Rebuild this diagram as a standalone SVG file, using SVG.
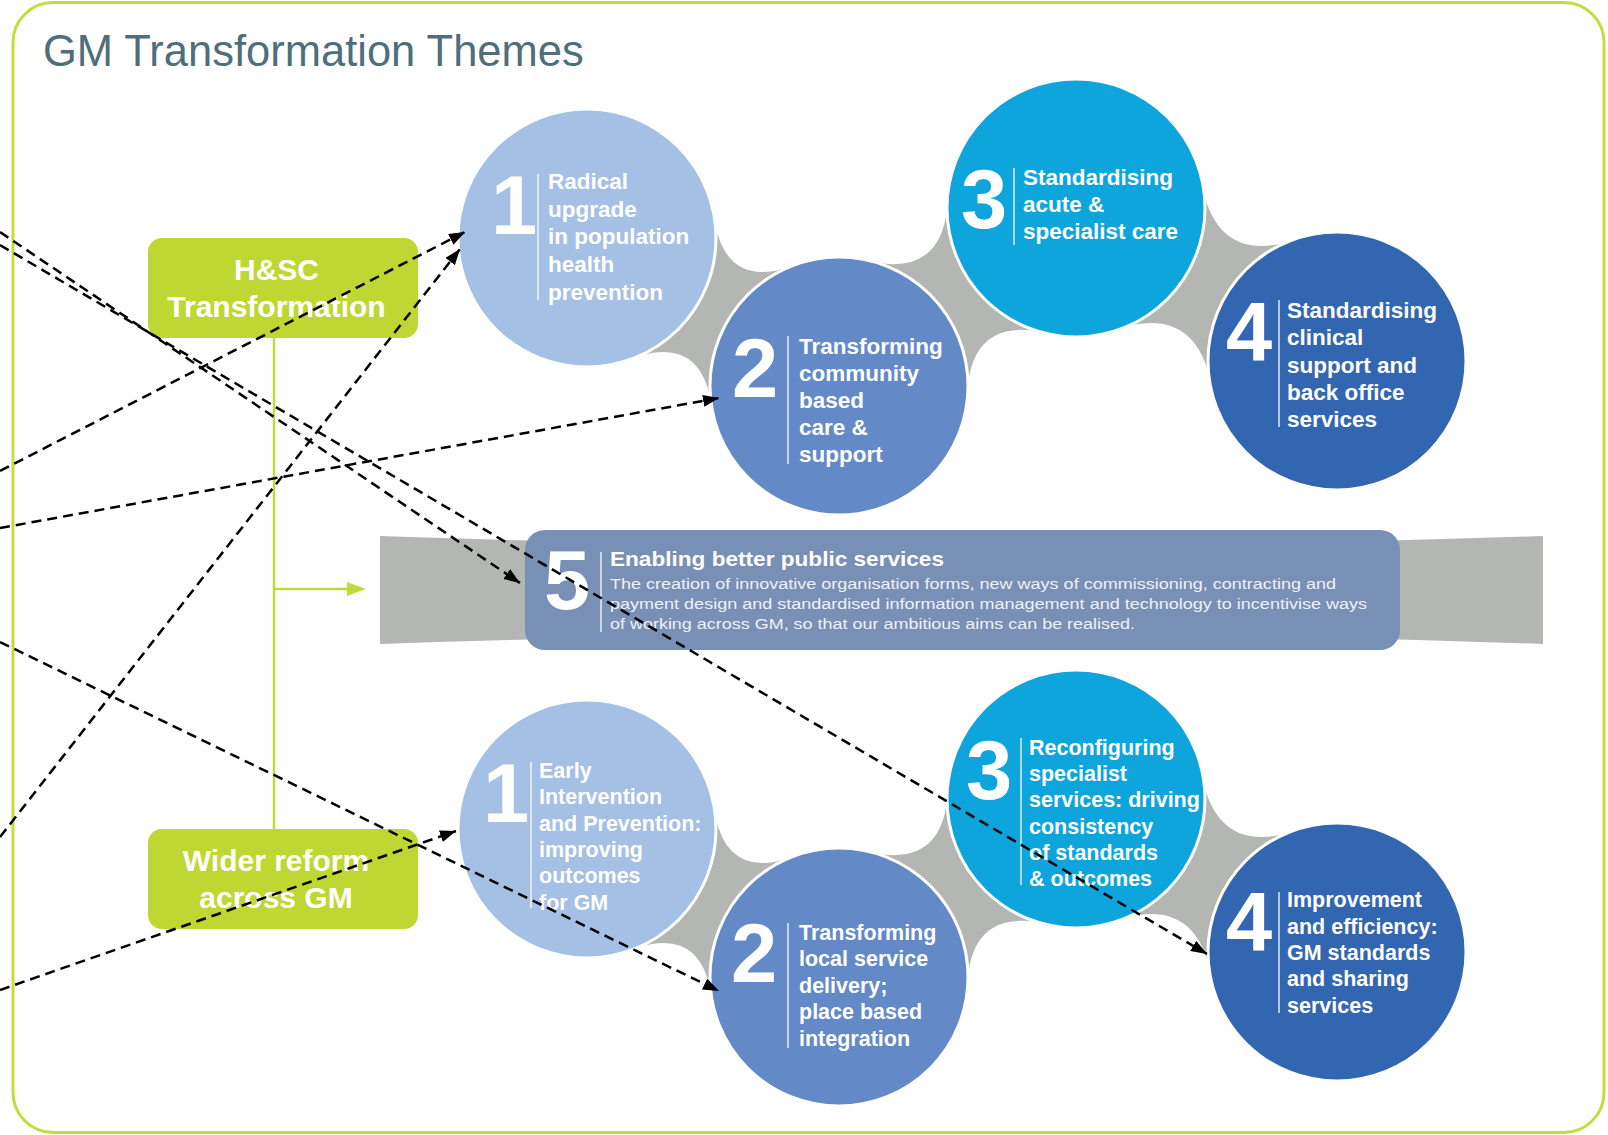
<svg xmlns="http://www.w3.org/2000/svg" width="1608" height="1135" viewBox="0 0 1608 1135">
<defs>
<style>
text{font-family:"Liberation Sans",Arial,Helvetica,sans-serif}
.title{font-size:43.5px;fill:#4f6e7c}
.num{font-weight:bold;font-size:83px;fill:#fff;text-anchor:middle}
.lbl{font-weight:bold;font-size:22.5px;fill:#fff}
.lbl2{font-weight:bold;font-size:21.5px;fill:#fff}
.sep{stroke:#fff;stroke-width:1.5;opacity:0.85}
.band{fill:#b4b6b4}
.c1{fill:#a5c0e5;stroke:#fff;stroke-width:3}
.c2{fill:#6389c7;stroke:#fff;stroke-width:3}
.c3{fill:#0ea5dc;stroke:#fff;stroke-width:3}
.c4{fill:#3366b0;stroke:#fff;stroke-width:3}
.green{fill:#bfd732}
.gtxt{font-weight:bold;font-size:30px;fill:#fff;text-anchor:middle}
.head5{font-weight:bold;font-size:21px;fill:#fff}
.body5{font-size:15.5px;fill:#eef2f8}
.gline{stroke:#c2d93c;stroke-width:2.5;fill:none}
.dash{fill:none;stroke:#000;stroke-width:2.5;stroke-dasharray:10 6;marker-end:url(#ah)}
</style>
<marker id="ah" markerUnits="userSpaceOnUse" markerWidth="18" markerHeight="14" refX="16" refY="6" orient="auto">
<path d="M0,0 L16,6 L0,12 z" fill="#000"/>
</marker>
</defs>
<rect x="0" y="0" width="1608" height="1135" fill="#fff"/>
<rect x="13" y="2.5" width="1591" height="1130" rx="40" fill="#fff" stroke="#c5dc3c" stroke-width="3"/>
<text class="title" x="43" y="66">GM Transformation Themes</text>

<g id="bands">
<path class="band" d="M380,536 Q961,556 1543,536 L1543,644 Q961,624 380,644 Z"/>
<g id="bands-top">
<path class="band" d="M715.4,225.5 Q728.2,286.1 787.4,267.7 L710.6,398.5 Q697.8,337.9 638.6,356.3 Z"/>
<path class="band" d="M877,262.7 Q939.5,273 947,210.1 L1038,331.3 Q975.5,321 968,383.9 Z"/>
<path class="band" d="M1204.4,195.4 Q1221.7,258.6 1285.2,242.8 L1208.6,373.6 Q1191.3,310.4 1127.8,326.2 Z"/>
</g>
<g id="bands-bottom" transform="translate(0,591)">
<path class="band" d="M715.4,225.5 Q728.2,286.1 787.4,267.7 L710.6,398.5 Q697.8,337.9 638.6,356.3 Z"/>
<path class="band" d="M877,262.7 Q939.5,273 947,210.1 L1038,331.3 Q975.5,321 968,383.9 Z"/>
<path class="band" d="M1204.4,195.4 Q1221.7,258.6 1285.2,242.8 L1208.6,373.6 Q1191.3,310.4 1127.8,326.2 Z"/>
</g>
</g>

<g id="top-1">
<circle class="c1" cx="587" cy="238" r="129"/>
<text class="num" x="514" y="234">1</text>
<line class="sep" x1="538" y1="174" x2="538" y2="300"/>
<text class="lbl"><tspan x="548" y="189">Radical</tspan><tspan x="548" y="216.7">upgrade</tspan><tspan x="548" y="244.4">in population</tspan><tspan x="548" y="272">health</tspan><tspan x="548" y="299.8">prevention</tspan></text>
</g>
<g id="top-2">
<circle class="c2" cx="839" cy="386" r="129"/>
<text class="num" x="755" y="397">2</text>
<line class="sep" x1="788" y1="336" x2="788" y2="464"/>
<text class="lbl"><tspan x="799" y="354">Transforming</tspan><tspan x="799" y="381">community</tspan><tspan x="799" y="408">based</tspan><tspan x="799" y="435">care &amp;</tspan><tspan x="799" y="462">support</tspan></text>
</g>
<g id="top-3">
<circle class="c3" cx="1076" cy="208" r="129"/>
<text class="num" x="984" y="228">3</text>
<line class="sep" x1="1014" y1="168" x2="1014" y2="245"/>
<text class="lbl"><tspan x="1023" y="185">Standardising</tspan><tspan x="1023" y="212">acute &amp;</tspan><tspan x="1023" y="239">specialist care</tspan></text>
</g>
<g id="top-4">
<circle class="c4" cx="1337" cy="361" r="129"/>
<text class="num" x="1249" y="361">4</text>
<line class="sep" x1="1279" y1="300" x2="1279" y2="427"/>
<text class="lbl"><tspan x="1287" y="318">Standardising</tspan><tspan x="1287" y="345">clinical</tspan><tspan x="1287" y="372.5">support and</tspan><tspan x="1287" y="399.5">back office</tspan><tspan x="1287" y="427">services</tspan></text>
</g>

<g id="theme-5">
<rect x="525" y="530" width="875" height="120" rx="20" fill="#788fb6"/>
<text class="num" x="567" y="609">5</text>
<line class="sep" x1="601" y1="552" x2="601" y2="632"/>
<text class="head5" x="610" y="566" textLength="334" lengthAdjust="spacingAndGlyphs">Enabling better public services</text>
<text class="body5" x="610" y="588.5" textLength="726" lengthAdjust="spacingAndGlyphs">The creation of innovative organisation forms, new ways of commissioning, contracting and</text>
<text class="body5" x="610" y="609" textLength="757" lengthAdjust="spacingAndGlyphs">payment design and standardised information management and technology to incentivise ways</text>
<text class="body5" x="610" y="628.5" textLength="525" lengthAdjust="spacingAndGlyphs">of working across GM, so that our ambitious aims can be realised.</text>
</g>

<g id="bottom-1">
<circle class="c1" cx="587" cy="829" r="129"/>
<text class="num" x="506" y="822">1</text>
<line class="sep" x1="531" y1="762" x2="531" y2="908"/>
<text class="lbl2"><tspan x="539" y="778">Early</tspan><tspan x="539" y="804.3">Intervention</tspan><tspan x="539" y="830.6">and Prevention:</tspan><tspan x="539" y="857">improving</tspan><tspan x="539" y="883.3">outcomes</tspan><tspan x="539" y="909.6">for GM</tspan></text>
</g>
<g id="bottom-2">
<circle class="c2" cx="839" cy="977" r="129"/>
<text class="num" x="754" y="982">2</text>
<line class="sep" x1="788" y1="923" x2="788" y2="1048"/>
<text class="lbl2"><tspan x="799" y="939.5">Transforming</tspan><tspan x="799" y="966">local service</tspan><tspan x="799" y="992.5">delivery;</tspan><tspan x="799" y="1019">place based</tspan><tspan x="799" y="1045.5">integration</tspan></text>
</g>
<g id="bottom-3">
<circle class="c3" cx="1076" cy="799" r="129"/>
<text class="num" x="989" y="799">3</text>
<line class="sep" x1="1021" y1="738" x2="1021" y2="885"/>
<text class="lbl2"><tspan x="1029" y="754.5">Reconfiguring</tspan><tspan x="1029" y="781">specialist</tspan><tspan x="1029" y="807">services: driving</tspan><tspan x="1029" y="833.5">consistency</tspan><tspan x="1029" y="860">of standards</tspan><tspan x="1029" y="886">&amp; outcomes</tspan></text>
</g>
<g id="bottom-4">
<circle class="c4" cx="1337" cy="952" r="129"/>
<text class="num" x="1249" y="951">4</text>
<line class="sep" x1="1279" y1="892" x2="1279" y2="1013"/>
<text class="lbl2"><tspan x="1287" y="907">Improvement</tspan><tspan x="1287" y="933.5">and efficiency:</tspan><tspan x="1287" y="960">GM standards</tspan><tspan x="1287" y="986">and sharing</tspan><tspan x="1287" y="1012.5">services</tspan></text>
</g>

<g id="hsc">
<rect class="green" x="148" y="238" width="270" height="100" rx="14"/>
<text class="gtxt" x="276.5" y="280">H&amp;SC</text>
<text class="gtxt" x="276.5" y="317">Transformation</text>
</g>
<g id="wider">
<rect class="green" x="148" y="829" width="270" height="100" rx="14"/>
<text class="gtxt" x="276" y="871">Wider reform</text>
<text class="gtxt" x="276" y="908">across GM</text>
</g>

<g id="connectors">
<line class="gline" x1="274" y1="338" x2="274" y2="829"/>
<line class="gline" x1="274" y1="589" x2="352" y2="589"/>
<polygon points="347,582 366,589 347,596" fill="#c2d93c"/>
<path class="dash" d="M0,232 L520,583"/>
<path class="dash" d="M0,245 L1207,954"/>
<path class="dash" d="M0,471 L465,232"/>
<path class="dash" d="M0,837 L460,249"/>
<path class="dash" d="M0,528 L719,398"/>
<path class="dash" d="M0,642 L719,991"/>
<path class="dash" d="M0,990 L456,831"/>
</g>
</svg>
